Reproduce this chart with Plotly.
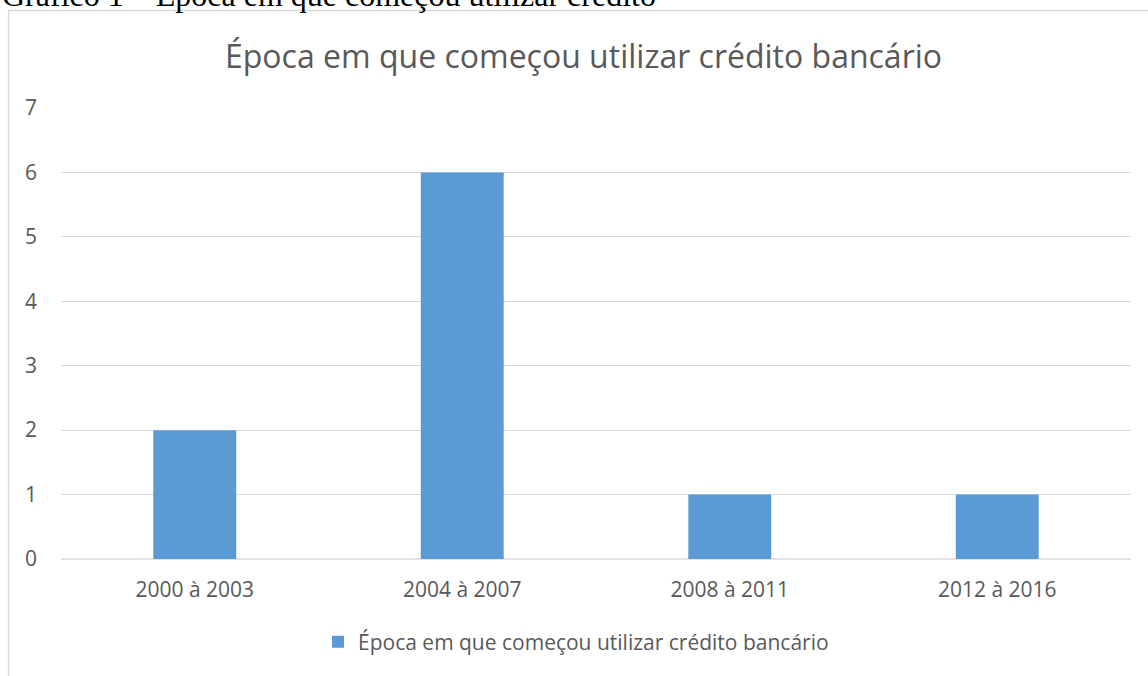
import plotly.graph_objects as go

categories = ["2000 à 2003", "2004 à 2007", "2008 à 2011", "2012 à 2016"]
values = [2, 6, 1, 1]
series_name = "Época em que começou utilizar crédito bancário"
chart_title = "Época em que começou utilizar crédito bancário"
caption = "Gráfico 1 – Época em que começou utilizar crédito"
y_ticks = [0, 1, 2, 3, 4, 5, 6, 7]

W, H = 1148, 676
L, R, T, B = 61, 17, 108, 117
pw = W - L - R
ph = H - T - B

def px_x(p):
    return (p - L) / pw

def px_y(p):
    return (H - B - p) / ph

TXT = "#595959"
FONT = "Open Sans"

fig = go.Figure()
fig.add_trace(go.Bar(
    x=categories, y=values, name=series_name,
    marker=dict(color="#5b9bd5", line=dict(width=0)),
    width=0.31,
))

fig.update_layout(
    width=W, height=H,
    margin=dict(l=L, r=R, t=T, b=B),
    paper_bgcolor="white", plot_bgcolor="white",
    font=dict(family=FONT, color=TXT, size=21),
    showlegend=True,
    legend=dict(
        orientation="h", x=px_x(576), xanchor="center",
        y=px_y(642), yanchor="middle",
        font=dict(family=FONT, size=21, color=TXT),
        itemwidth=30,
    ),
    bargap=0.69,
    xaxis=dict(
        showgrid=False, zeroline=False, showline=False,
        ticks="", tickfont=dict(size=21, color=TXT, family=FONT),
        ticklabelstandoff=16,
    ),
    yaxis=dict(
        range=[0, 7], tickvals=y_ticks,
        showgrid=True, gridcolor="#d9d9d9", gridwidth=1.3,
        zeroline=False, showline=False, ticks="",
        tickfont=dict(size=21, color=TXT, family=FONT),
        ticklabelstandoff=23,
    ),
    shapes=[
        dict(type="rect", xref="paper", yref="paper",
             x0=px_x(8.5), x1=px_x(1160), y0=px_y(10.5), y1=px_y(700),
             line=dict(color="#d9d9d9", width=1.3), fillcolor="rgba(0,0,0,0)",
             layer="below"),
        dict(type="line", xref="paper", yref="paper",
             x0=0, x1=1, y0=0, y1=0,
             line=dict(color="#d9d9d9", width=1.3), layer="below"),
    ],
    annotations=[
        dict(text=chart_title, xref="paper", yref="paper",
             x=px_x(583), y=px_y(55), xanchor="center", yanchor="middle",
             showarrow=False, font=dict(family=FONT, size=32, color=TXT)),
        dict(text=caption, xref="paper", yref="paper",
             x=px_x(0), y=px_y(-5), xanchor="left", yanchor="middle",
             showarrow=False, font=dict(family="Liberation Serif", size=32, color="black")),
    ],
)

fig.write_html("out.html")
